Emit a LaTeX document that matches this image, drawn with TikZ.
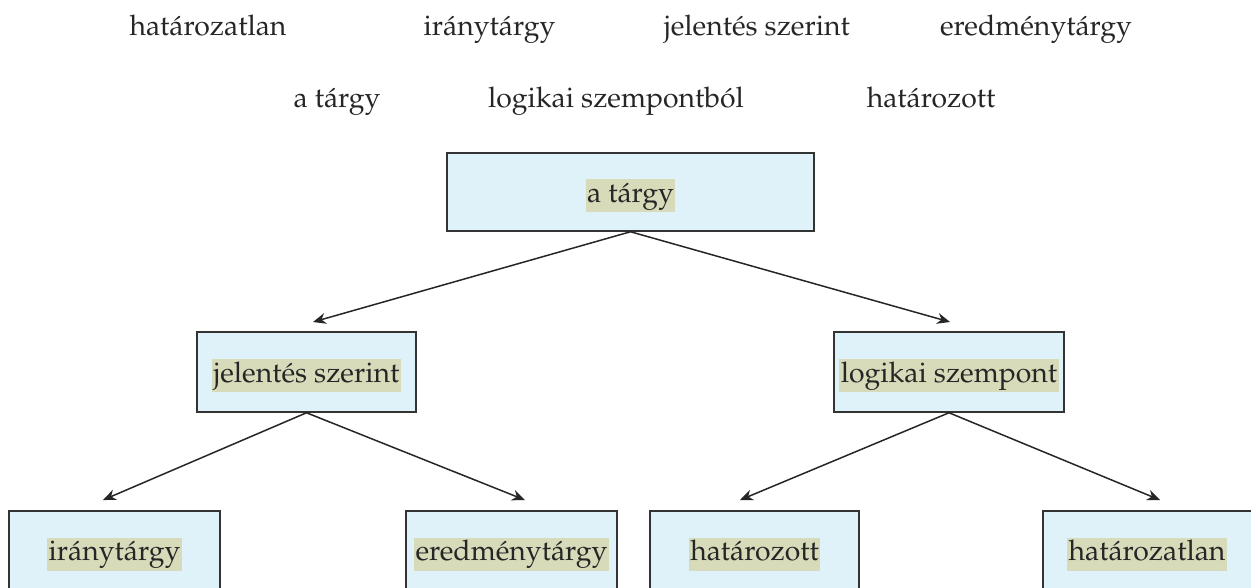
\documentclass[tikz,border=0pt]{standalone}
\usepackage[T1]{fontenc}
\usepackage{mathpazo}
\usetikzlibrary{arrows.meta}
\definecolor{boxfill}{HTML}{DFF2F9}
\definecolor{hl}{HTML}{D7DBB9}
\definecolor{edge}{HTML}{333333}
\tikzset{
  box/.style={draw=edge, line width=0.6pt, fill=boxfill, inner sep=0pt, minimum height=31.2pt},
  lbl/.style={fill=hl, inner xsep=0.6pt, inner ysep=1.2pt, text height=8.1pt, text depth=2.7pt, font=\fontsize{11.35}{13.5}\selectfont, text=black!85, yshift=-1.4pt},
  plain/.style={inner sep=0pt, font=\fontsize{11.35}{13.5}\selectfont, text=black!85, anchor=base},
  arr/.style={draw=black!85, line width=0.6pt, -{Stealth[length=5.2pt,width=4.4pt]}}
}
\begin{document}
\begin{tikzpicture}[x=0.4pt,y=-0.4pt]
\useasboundingbox (0,0) rectangle (1251,587);
\clip (0,0) rectangle (1251,587);
% top words
\node[plain] (w1) at (208,35) {határozatlan};
\node[plain] (w2) at (489.5,35) {iránytárgy};
\node[plain] (w3) at (757,35) {jelentés szerint};
\node[plain] (w4) at (1036,35) {eredménytárgy};
\node[plain] (w5) at (337,107) {a tárgy};
\node[plain] (w6) at (616,107) {logikai szempontból};
\node[plain] (w7) at (931,107) {határozott};
% boxes
\node[box, minimum width=146.8pt] (root) at (630.5,192) {};
\node[lbl] (rootl) at (root) {a tárgy};
\node[box, minimum width=87.6pt, minimum height=32pt] (jel) at (306.5,372) {};
\node[lbl] (jell) at (jel) {jelentés szerint};
\node[box, minimum width=92pt, minimum height=32pt] (log) at (949,372) {};
\node[lbl] (logl) at (log) {logikai szempont};
\node[box, minimum width=84.4pt, minimum height=34.4pt] (ir) at (114.5,554) {};
\node[lbl, yshift=1.4pt] (irl) at (ir) {iránytárgy};
\node[box, minimum width=84.4pt, minimum height=34.4pt] (er) at (511.5,554) {};
\node[lbl, yshift=1.4pt] (erl) at (er) {eredménytárgy};
\node[box, minimum width=83.6pt, minimum height=34.4pt] (ho) at (754.5,554) {};
\node[lbl, yshift=1.4pt] (hol) at (ho) {határozott};
\node[box, minimum width=92pt, minimum height=34.4pt] (hl) at (1158,554) {};
\node[lbl, yshift=1.4pt] (hll) at (1147,554) {határozatlan};
% arrow targets
\coordinate (tj) at (313,322);
\coordinate (tl) at (950,322);
\coordinate (ti) at (103,500);
\coordinate (te) at (525,500);
\coordinate (th) at (740,500);
\coordinate (tz) at (1160,500);
\draw[arr] (root.south) -- (tj);
\draw[arr] (root.south) -- (tl);
\draw[arr] (jel.south) -- (ti);
\draw[arr] (jel.south) -- (te);
\draw[arr] (log.south) -- (th);
\draw[arr] (log.south) -- (tz);
\end{tikzpicture}
\end{document}
